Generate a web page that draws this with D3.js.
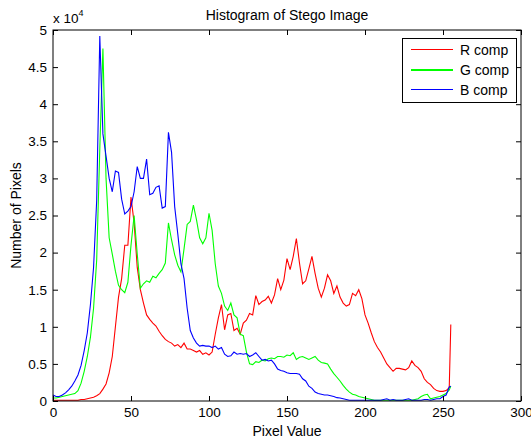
<!DOCTYPE html>
<html>
<head>
<meta charset="utf-8">
<script src="https://cdn.jsdelivr.net/npm/d3@7"></script>
<style>
  html, body { margin: 0; padding: 0; background: #fff; }
  svg text { font-family: "Liberation Sans", Arial, sans-serif; fill: #000; }
</style>
</head>
<body>
<div id="chart"></div>
<script>
// Histogram of a stego image, counts in units of 10^4
const pixelValues = [0,2,4,6,8,10,12,14,16,18,20,22,24,26,28,30,32,34,36,38,
  40,42,44,46,48,50,52,54,56,58,60,62,64,66,68,70,72,74,76,78,
  80,82,84,86,88,90,92,94,96,98,100,102,104,106,108,110,112,114,116,118,
  120,122,124,126,128,130,132,134,136,138,140,142,144,146,148,150,152,154,156,158,
  160,162,164,166,168,170,172,174,176,178,180,182,184,186,188,190,192,194,196,198,
  200,202,204,206,208,210,212,214,216,218,220,222,224,226,228,230,232,234,236,238,
  240,242,244,246,248,250,252,254,255];

const redCounts = [0.01,0.01,0.01,0.01,0.01,0.01,0.01,0.01,0.01,0.02,
  0.02,0.03,0.04,0.05,0.07,0.1,0.16,0.23,0.38,0.6,
  1.0,1.4,1.65,2.1,2.1,2.75,2.4,1.8,1.5,1.32,
  1.16,1.1,1.05,1.01,0.94,0.88,0.83,0.8,0.78,0.74,
  0.76,0.72,0.78,0.7,0.7,0.68,0.66,0.68,0.63,0.65,
  0.62,0.66,0.9,1.12,1.3,0.96,1.16,1.18,0.95,0.98,
  0.9,1.05,1.09,1.18,1.16,1.42,1.3,1.34,1.36,1.41,
  1.32,1.43,1.65,1.5,1.63,1.92,1.77,1.95,2.19,1.86,
  1.58,1.62,1.78,1.95,1.72,1.52,1.4,1.52,1.7,1.62,
  1.45,1.55,1.4,1.32,1.28,1.3,1.45,1.42,1.5,1.38,
  1.16,1.05,0.92,0.8,0.72,0.66,0.58,0.5,0.45,0.4,
  0.44,0.44,0.43,0.42,0.45,0.54,0.48,0.45,0.4,0.3,
  0.25,0.22,0.17,0.14,0.13,0.13,0.14,0.18,1.03];

const greenCounts = [0.04,0.04,0.05,0.06,0.07,0.08,0.09,0.1,0.14,0.24,
  0.4,0.6,0.86,1.25,1.9,3.4,4.75,3.0,2.2,1.98,
  1.75,1.56,1.5,1.46,1.6,2.1,2.5,1.98,1.52,1.58,
  1.62,1.6,1.68,1.66,1.72,1.77,1.86,2.4,2.17,1.97,
  1.83,1.74,2.05,2.38,2.42,2.64,2.44,2.2,2.12,2.2,
  2.53,2.3,1.85,1.55,1.45,1.28,1.22,1.32,1.16,1.12,
  0.9,0.88,0.66,0.5,0.49,0.53,0.52,0.55,0.54,0.57,
  0.58,0.57,0.6,0.6,0.59,0.62,0.61,0.65,0.56,0.59,
  0.6,0.58,0.56,0.58,0.6,0.55,0.52,0.51,0.5,0.43,
  0.37,0.32,0.27,0.21,0.16,0.12,0.09,0.08,0.06,0.05,
  0.04,0.03,0.02,0.01,0.01,0.01,0.01,0.01,0.01,0.01,
  0.01,0.01,0.01,0.01,0.01,0.01,0.02,0.03,0.06,0.08,
  0.09,0.03,0.04,0.05,0.06,0.08,0.1,0.15,0.2];

const blueCounts = [0.08,0.06,0.06,0.08,0.11,0.15,0.2,0.27,0.35,0.48,
  0.68,0.92,1.3,1.8,2.7,4.92,3.6,3.3,3.0,2.82,
  3.1,3.08,2.72,2.52,2.56,2.62,2.82,3.16,3.0,3.0,
  3.26,2.78,2.8,2.88,2.9,2.6,2.62,3.62,3.35,2.62,
  2.25,1.85,1.65,1.25,0.95,0.85,0.78,0.74,0.75,0.74,
  0.74,0.72,0.74,0.7,0.72,0.63,0.6,0.61,0.66,0.63,
  0.64,0.63,0.64,0.6,0.62,0.65,0.6,0.55,0.56,0.54,
  0.55,0.5,0.43,0.41,0.4,0.38,0.37,0.37,0.37,0.36,
  0.3,0.27,0.2,0.17,0.12,0.1,0.09,0.08,0.08,0.07,
  0.06,0.045,0.04,0.03,0.02,0.01,0.01,0.01,0.01,0.01,
  0.01,0.01,0.01,0.01,0.01,0.01,0.02,0.03,0.01,0.02,
  0.01,0.01,0.01,0.02,0.03,0.01,0.01,0.01,0.01,0.02,
  0.02,0.01,0.02,0.03,0.03,0.06,0.08,0.19,0.2];

const seriesNames = ['R comp', 'G comp', 'B comp'];
const seriesColors = ['#ff0000', '#00ff00', '#0000ff'];
const seriesValues = [redCounts, greenCounts, blueCounts];

const xTicks = [0, 50, 100, 150, 200, 250, 300];
const yTicks = [0, 0.5, 1, 1.5, 2, 2.5, 3, 3.5, 4, 4.5, 5];

const width = 531, height = 441;
const margin = { top: 30, right: 10, bottom: 40, left: 53 };
const plotW = width - margin.left - margin.right;
const plotH = height - margin.top - margin.bottom;
const fontFamily = '"Liberation Sans", Arial, sans-serif';

const svg = d3.select('#chart').append('svg')
  .attr('width', width)
  .attr('height', height);

const g = svg.append('g')
  .attr('transform', `translate(${margin.left},${margin.top})`);

const x = d3.scaleLinear().domain([0, 300]).range([0, plotW]);
const y = d3.scaleLinear().domain([0, 5]).range([plotH, 0]);

// lines (R first, B drawn on top)
const line = d3.line()
  .x((d, i) => x(pixelValues[i]))
  .y(d => y(d));

seriesValues.forEach((vals, k) => {
  g.append('path')
    .datum(vals)
    .attr('fill', 'none')
    .attr('stroke', seriesColors[k])
    .attr('stroke-width', 1.1)
    .attr('d', line);
});

// axes, ticks pointing inward like MATLAB
function styleAxis(sel) {
  sel.select('.domain').remove();
  sel.selectAll('line').attr('stroke', '#000');
  sel.selectAll('text').attr('font-size', '13.5px')
    .attr('font-family', fontFamily);
}

g.append('g')
  .attr('transform', `translate(0,${plotH})`)
  .call(d3.axisBottom(x).tickValues(xTicks).tickSize(-5).tickPadding(6))
  .call(styleAxis);

g.append('g')
  .call(d3.axisLeft(y).tickValues(yTicks).tickSize(-5).tickPadding(6)
    .tickFormat(d => String(d)))
  .call(styleAxis);

g.append('g')
  .call(d3.axisTop(x).tickValues(xTicks).tickSize(-5).tickFormat(''))
  .call(styleAxis);

g.append('g')
  .attr('transform', `translate(${plotW},0)`)
  .call(d3.axisRight(y).tickValues(yTicks).tickSize(-5).tickFormat(''))
  .call(styleAxis);

// box
g.append('rect')
  .attr('width', plotW)
  .attr('height', plotH)
  .attr('fill', 'none')
  .attr('stroke', '#000')
  .attr('stroke-width', 1);

// exponent label
const expo = svg.append('text')
  .attr('x', margin.left)
  .attr('y', 23)
  .attr('font-size', '13.5px');
expo.append('tspan').text('x 10');
expo.append('tspan').attr('dy', -7).attr('font-size', '9px').text('4');

// title and axis labels
svg.append('text')
  .attr('x', margin.left + plotW / 2)
  .attr('y', 20)
  .attr('text-anchor', 'middle')
  .attr('font-size', '14px')
  .text('Histogram of Stego Image');

svg.append('text')
  .attr('x', margin.left + plotW / 2)
  .attr('y', 436)
  .attr('text-anchor', 'middle')
  .attr('font-size', '14px')
  .text('Pixel Value');

svg.append('text')
  .attr('transform', `translate(21,${margin.top + plotH / 2}) rotate(-90)`)
  .attr('text-anchor', 'middle')
  .attr('font-size', '14px')
  .text('Number of Pixels');

// legend
const legend = svg.append('g').attr('transform', 'translate(402,38)');
legend.append('rect')
  .attr('x', 0.5).attr('y', 0.5)
  .attr('width', 114)
  .attr('height', 64)
  .attr('fill', '#fff')
  .attr('stroke', '#000');

seriesNames.forEach((name, k) => {
  const ly = 11 + k * 20;
  legend.append('rect')
    .attr('x', 9).attr('y', ly)
    .attr('width', 42)
    .attr('height', k === 1 ? 2 : 1)
    .attr('shape-rendering', 'crispEdges')
    .style('fill', seriesColors[k]);
  legend.append('text')
    .attr('x', 58)
    .attr('y', ly + 6)
    .attr('font-size', '14px')
    .text(name);
});
</script>
</body>
</html>
